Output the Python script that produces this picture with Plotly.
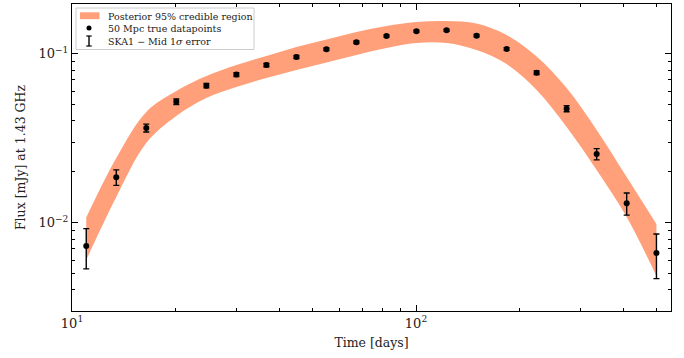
import plotly.graph_objects as go

# ---- data ----
time_days = [11.0, 13.45, 16.44, 20.1, 24.58, 30.05, 36.74, 44.92, 54.9, 67.1,
             82.1, 100.3, 122.7, 150.0, 183.4, 224.2, 274.1, 335.1, 409.7, 500.0]
flux_true = [0.00728, 0.01858, 0.03634, 0.0520, 0.0647, 0.0753, 0.0857, 0.0956, 0.1062, 0.1168,
             0.1273, 0.1357, 0.1375, 0.1278, 0.1066, 0.0772, 0.0473, 0.0255, 0.01303, 0.00662]
flux_err = [0.00195, 0.00195, 0.00195, 0.00195, 0.00195, 0.00195, 0.00195, 0.00195, 0.00195, 0.00195,
            0.00195, 0.00195, 0.00195, 0.00195, 0.00195, 0.00195, 0.00195, 0.00195, 0.00195, 0.00195]
band_upper = [0.01074, 0.02414, 0.04519, 0.06016, 0.07379, 0.08571, 0.09691, 0.1096, 0.1213, 0.1344,
              0.1458, 0.1540, 0.1562, 0.1510, 0.1291, 0.09625, 0.06266, 0.03536, 0.01864, 0.00982]
band_lower = [0.006016, 0.01419, 0.02962, 0.04279, 0.05468, 0.06353, 0.07181, 0.08011, 0.08869, 0.09824,
              0.1081, 0.1157, 0.1157, 0.1052, 0.0869, 0.06099, 0.03684, 0.0205, 0.0108, 0.004837]

x_major = [10, 100]
x_major_text = ["10<sup>1</sup>", "10<sup>2</sup>"]
x_minor = [20, 30, 40, 50, 60, 70, 80, 90, 200, 300, 400, 500]
y_major = [0.01, 0.1]
y_major_text = ["10<sup>−2</sup>", "10<sup>−1</sup>"]
y_minor = [0.003, 0.004, 0.005, 0.006, 0.007, 0.008, 0.009,
           0.02, 0.03, 0.04, 0.05, 0.06, 0.07, 0.08, 0.09]

legend_labels = ["Posterior 95% credible region", "50 Mpc true datapoints", "SKA1 − Mid 1<i>σ</i> error"]

BAND = "#FFA07A"
FONT = "DejaVu Serif"

W, H = 684, 358
L, R, T, B = 72, 13, 4, 47

fig = go.Figure()
fig.add_trace(go.Scatter(x=time_days, y=band_lower, mode="lines",
                         line=dict(width=0, shape="spline", color=BAND),
                         showlegend=False, hoverinfo="skip"))
fig.add_trace(go.Scatter(x=time_days, y=band_upper, mode="lines", fill="tonexty",
                         fillcolor=BAND, line=dict(width=0, shape="spline", color=BAND),
                         showlegend=False, hoverinfo="skip"))
fig.add_trace(go.Scatter(x=time_days, y=flux_true, mode="markers",
                         marker=dict(color="black", size=6),
                         error_y=dict(type="data", array=flux_err, color="black",
                                      thickness=1.4, width=3),
                         showlegend=False))

axis_common = dict(type="log", showgrid=False, zeroline=False, showline=True,
                   linecolor="black", linewidth=1, mirror="ticks", ticks="inside",
                   ticklen=6, tickwidth=1, tickcolor="black",
                   tickfont=dict(family=FONT, size=13, color="#222"))
fig.update_xaxes(**axis_common, range=[1.0, 2.7413], tickmode="array",
                 tickvals=x_major, ticktext=x_major_text,
                 minor=dict(tickvals=x_minor, ticks="inside", ticklen=3, tickwidth=1, tickcolor="black"),
                 title=dict(text="Time [days]", font=dict(family=FONT, size=12.5, color="#222"), standoff=8))
fig.update_yaxes(**axis_common, range=[-2.5225, -0.706], tickmode="array",
                 tickvals=y_major, ticktext=y_major_text,
                 minor=dict(tickvals=y_minor, ticks="inside", ticklen=3, tickwidth=1, tickcolor="black"),
                 title=dict(text="Flux [mJy] at 1.43 GHz", font=dict(family=FONT, size=12.5, color="#222"), standoff=10))

pw, ph = W - L - R, H - T - B
def px(x):
    return (x - L) / pw
def py(y):
    return 1 - (y - T) / ph

shapes = []
# legend frame
shapes.append(dict(type="rect", xref="paper", yref="paper", x0=px(76), x1=px(254), y0=py(49.5), y1=py(8),
                   line=dict(color="#cccccc", width=1), fillcolor="rgba(255,255,255,0.8)", layer="above"))
shapes.append(dict(type="rect", xref="paper", yref="paper", x0=px(80), x1=px(99.5), y0=py(19.2), y1=py(12.3),
                   line=dict(width=0), fillcolor=BAND, layer="above"))
shapes.append(dict(type="circle", xref="paper", yref="paper", x0=px(86.5), x1=px(91.5), y0=py(30.5), y1=py(25.5),
                   line=dict(width=0), fillcolor="black", layer="above"))
shapes.append(dict(type="line", xref="paper", yref="paper", x0=px(89), x1=px(89), y0=py(36), y1=py(46),
                   line=dict(color="black", width=1.4), layer="above"))
for yy in (36, 46):
    shapes.append(dict(type="line", xref="paper", yref="paper", x0=px(86.3), x1=px(91.7), y0=py(yy), y1=py(yy),
                       line=dict(color="black", width=1.2), layer="above"))

annotations = []
for lbl, yy in zip(legend_labels, (16, 28.5, 41)):
    annotations.append(dict(text=lbl, xref="paper", yref="paper", x=px(106), y=py(yy),
                            xanchor="left", yanchor="middle", showarrow=False,
                            font=dict(family=FONT, size=9.5, color="#222")))

fig.update_layout(width=W, height=H, margin=dict(l=L, r=R, t=T, b=B),
                  paper_bgcolor="white", plot_bgcolor="white",
                  shapes=shapes, annotations=annotations, showlegend=False)

fig.write_html("out.html")
